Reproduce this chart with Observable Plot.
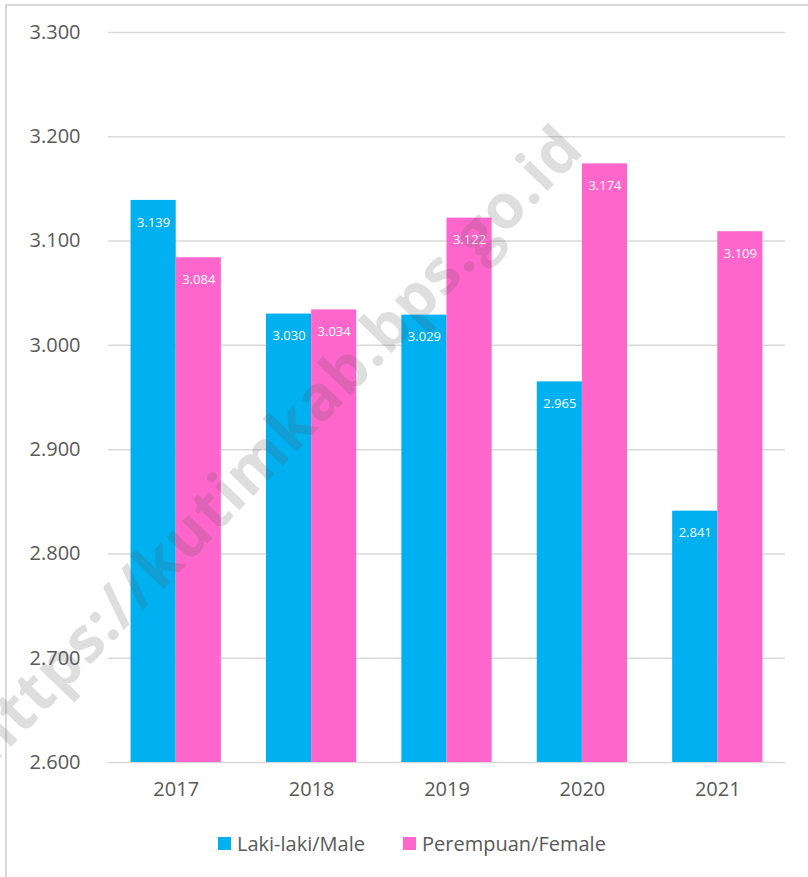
<!DOCTYPE html>
<html>
<head>
<meta charset="utf-8">
<script src="https://cdn.jsdelivr.net/npm/d3@7"></script>
<script src="https://cdn.jsdelivr.net/npm/@observablehq/plot@0.6"></script>
<style>
  html, body { margin: 0; padding: 0; background: #fff; overflow: hidden; }
  body { width: 808px; height: 877px; position: relative; font-family: "Open Sans", sans-serif; }
  #frame { position: absolute; left: 5px; top: 4px; width: 900px; height: 900px;
           border-top: 2px solid #d9d9d9; border-left: 2px solid #d9d9d9; box-sizing: border-box; }
  #chart { position: absolute; left: 0; top: 0; }
  #legend { position: absolute; left: 0; top: 830px; width: 808px; height: 28px; }
  .item { position: absolute; top: 0; display: flex; align-items: center; font-size: 20px; color: #595959; white-space: nowrap; }
  .sw { width: 13px; height: 13px; margin-right: 6px; }
  #wm { position: absolute; left: 272px; top: 442px; transform: translate(-50%, -50%) rotate(-46deg);
        font-family: "Open Sans", sans-serif; font-weight: 700; font-size: 62px; color: rgba(90,90,90,0.2);
        white-space: nowrap; pointer-events: none; letter-spacing: 1px; }
</style>
</head>
<body>
<div id="frame"></div>
<div id="chart"></div>
<div id="legend"></div>
<div id="wm">https://kutimkab.bps.go.id</div>
<script>
const years = [2017, 2018, 2019, 2020, 2021];
const male = [3.139, 3.030, 3.029, 2.965, 2.841];
const female = [3.084, 3.034, 3.122, 3.174, 3.109];
const seriesNames = ["Laki-laki/Male", "Perempuan/Female"];
const seriesColors = ["#00B0F0", "#FF66CC"];
const yTicks = [2.6, 2.7, 2.8, 2.9, 3.0, 3.1, 3.2, 3.3];
const yDomain = [2.6, 3.3];

const barShare = 1 / 3; // each bar takes a third of a year slot
const rows = [];
years.forEach((yr, i) => {
  rows.push({year: yr, series: seriesNames[0], value: male[i], x1: yr - barShare, x2: yr});
  rows.push({year: yr, series: seriesNames[1], value: female[i], x1: yr, x2: yr + barShare});
});

const fmt = d3.format(".3f");

const chart = Plot.plot({
  width: 808,
  height: 820,
  marginLeft: 108,
  marginRight: 23,
  marginTop: 32,
  marginBottom: 58,
  style: { fontFamily: "Open Sans, sans-serif", background: "transparent", overflow: "visible" },
  x: { type: "linear", domain: [years[0] - 0.5, years[years.length - 1] + 0.5], label: null },
  y: { domain: yDomain, label: null },
  color: { domain: seriesNames, range: seriesColors },
  marks: [
    Plot.ruleY(yTicks, { stroke: "#d9d9d9", strokeWidth: 1.5 }),
    Plot.rectY(rows, { x1: "x1", x2: "x2", y1: () => yDomain[0], y2: "value", fill: "series" }),
    Plot.text(rows, { x: d => (d.x1 + d.x2) / 2, y: "value", text: d => fmt(d.value),
                      dy: 22, fill: "white", fontSize: 13 }),
    Plot.axisY(yTicks, { tickSize: 0, tickPadding: 28, tickFormat: fmt, fontSize: 20, fill: "#595959", label: null }),
    Plot.axisX(years, { tickSize: 0, tickPadding: 19, tickFormat: d => String(d), fontSize: 20, fill: "#595959", label: null })
  ]
});
document.getElementById("chart").appendChild(chart);

const legend = document.getElementById("legend");
const lefts = [218, 403];
seriesNames.forEach((name, i) => {
  const item = document.createElement("div");
  item.className = "item";
  item.style.left = lefts[i] + "px";
  const sw = document.createElement("div");
  sw.className = "sw";
  sw.style.background = seriesColors[i];
  const t = document.createElement("span");
  t.textContent = name;
  item.appendChild(sw);
  item.appendChild(t);
  legend.appendChild(item);
});
</script>
</body>
</html>
